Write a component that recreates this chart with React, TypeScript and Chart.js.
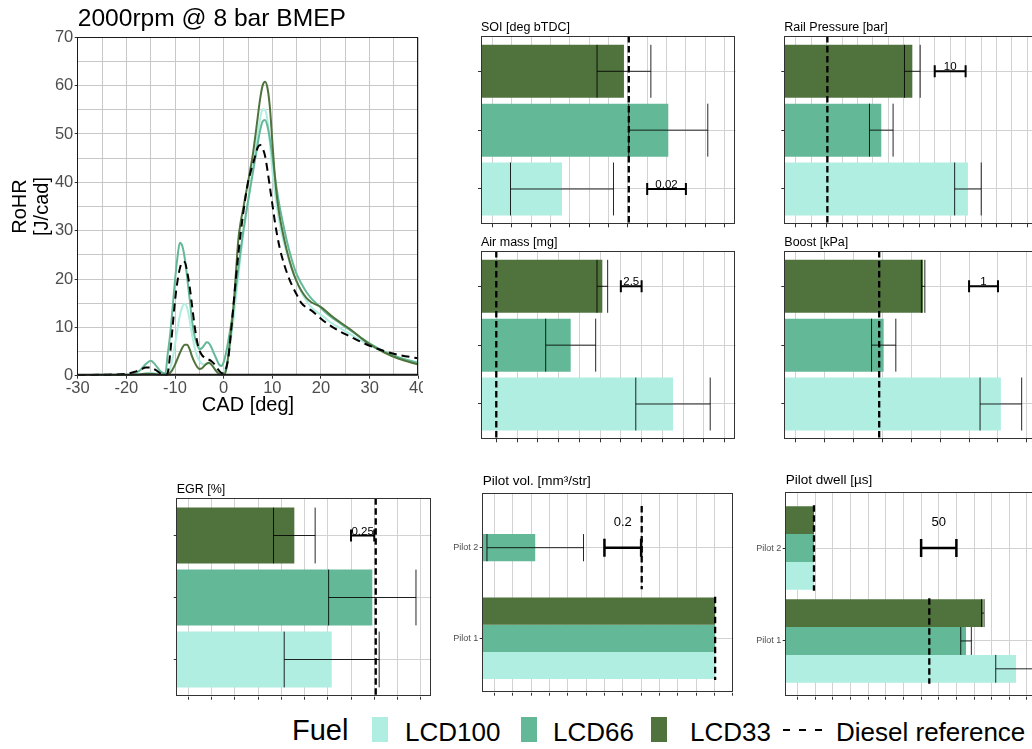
import React, { useEffect, useRef } from 'react';
import { Chart, registerables } from 'chart.js';

Chart.register(...registerables);

const FONT = "'Liberation Sans', Arial, Helvetica, sans-serif";
Chart.defaults.font.family = FONT;

const FUELS = ['LCD100', 'LCD66', 'LCD33'];
const FUEL_COLORS = ['#afeee1', '#63b997', '#50733d'];
const DIESEL_NAME = 'Diesel reference';

// ---------- Rate of heat release, 2000 rpm / 8 bar BMEP ----------
const cad = [
  -30, -25, -20, -18, -17, -16, -15, -14, -13, -12,
  -11.5, -11, -10.5, -10, -9.5, -9, -8.5, -8, -7.5, -7,
  -6.5, -6, -5.5, -5, -4.5, -4, -3.5, -3, -2.5, -2,
  -1.5, -1, -0.5, 0, 0.5, 1, 1.5, 2, 2.5, 3,
  3.5, 4, 4.5, 5, 5.5, 6, 6.5, 7, 7.5, 8,
  8.5, 9, 9.5, 10, 10.5, 11, 11.5, 12, 13, 14,
  15, 16, 17, 18, 19, 20, 21, 22, 24, 26,
  28, 30, 33, 36, 40,
];
const rohrLCD100 = [
  0.0, 0.05, 0.1, 0.2, 0.3, 0.5, 0.6, 0.5, 0.3, 0.2,
  0.5, 1.5, 3.5, 6.5, 9.5, 12.5, 14.3, 14.9, 14.0, 11.5,
  8.5, 6.0, 4.2, 3.1, 2.5, 2.3, 2.4, 2.5, 2.2, 1.6,
  1.0, 0.6, 0.5, 0.8, 2.0, 4.0, 7.5, 11.5, 16.0, 20.5,
  25.0, 29.0, 32.5, 36.0, 39.5, 43.0, 46.5, 50.0, 53.3, 55.1,
  55.0, 52.8, 48.0, 42.5, 38.0, 34.5, 31.5, 29.0, 25.3, 22.2,
  19.3, 17.2, 15.5, 14.2, 13.3, 12.6, 11.8, 11.0, 9.8, 8.6,
  7.4, 6.3, 4.9, 3.8, 2.7,
];
const rohrLCD66 = [
  0.1, 0.2, 0.2, 0.6, 1.3, 2.4, 3.1, 2.2, 0.9, 0.4,
  4.5, 8.5, 14.0, 19.8, 24.5, 27.5, 26.8, 24.3, 20.3, 16.0,
  11.4, 8.3, 6.5, 5.5, 5.7, 6.3, 6.9, 6.7, 5.8, 4.6,
  3.5, 2.4, 2.0, 2.8, 4.8, 7.5, 10.5, 14.0, 18.0, 22.0,
  26.0, 29.7, 33.0, 36.0, 39.0, 42.0, 45.0, 48.0, 50.8, 52.6,
  52.9, 51.6, 49.0, 45.5, 41.5, 38.0, 35.0, 32.5, 27.8, 24.0,
  21.0, 19.0, 17.3, 16.0, 15.0, 14.0, 13.0, 12.2, 10.8, 9.4,
  8.0, 6.7, 5.0, 3.8, 2.6,
];
const rohrLCD33 = [
  0.0, 0.05, 0.1, 0.2, 0.3, 0.4, 0.4, 0.3, 0.2, 0.1,
  0.2, 0.6, 1.3, 2.3, 3.5, 4.7, 5.8, 6.4, 6.4, 5.5,
  4.0, 2.8, 1.9, 1.4, 1.5, 2.0, 2.5, 2.7, 2.3, 1.6,
  0.9, 0.4, 0.2, 0.2, 1.2, 4.5, 9.0, 14.0, 21.0, 28.0,
  31.8, 34.5, 37.3, 40.0, 42.8, 45.8, 49.5, 53.5, 57.3, 60.0,
  60.8, 59.5, 55.5, 48.5, 41.5, 36.5, 33.0, 30.3, 25.8, 22.2,
  19.5, 17.5, 16.1, 15.2, 14.7, 14.2, 13.4, 12.5, 11.0, 9.6,
  8.0, 6.5, 4.8, 3.5, 2.3,
];
const rohrDiesel = [
  0.1, 0.2, 0.4, 0.9, 1.3, 1.7, 1.7, 1.2, 0.5, 0.1,
  0.6, 4.5, 10.0, 15.5, 19.5, 22.2, 23.5, 23.5, 21.5, 18.5,
  14.5, 10.5, 7.3, 5.3, 4.3, 3.8, 3.5, 3.3, 3.0, 2.5,
  1.8, 1.1, 0.6, 0.5, 1.5, 4.0, 9.0, 14.5, 20.0, 25.0,
  29.5, 33.5, 37.0, 40.0, 42.0, 43.8, 45.5, 47.2, 47.7, 47.0,
  45.5, 42.5, 39.0, 35.5, 32.0, 29.0, 26.5, 24.5, 21.3, 18.8,
  16.8, 15.0, 14.1, 13.5, 12.7, 11.8, 11.0, 10.3, 9.1, 8.1,
  7.1, 6.2, 5.1, 4.3, 3.6,
];

// ---------- Injection / air-path quantities (LCD100, LCD66, LCD33), mean and sd ----------
// Values are read against each panel's grid; the grid origin is the first vertical line.
const soiMean = [0.036, 0.0909, 0.068];
const soiSd = [0.0266, 0.0204, 0.0139];
const soiDiesel = 0.0705;

const railMean = [55.75, 27.7, 37.75];
const railSd = [4.3, 3.82, 2.54];
const railDiesel = 10.25;

const airMean = [21.28, 8.96, 12.77];
const airSd = [4.48, 3.01, 0.64];
const airDiesel = 0.0;

const boostMean = [7.1, 3.045, 4.41];
const boostSd = [0.72, 0.42, 0.06];
const boostDiesel = 2.89;

const egrMean = [1.542, 1.979, 1.14];
const egrSd = [0.511, 0.47, 0.224];
const egrDiesel = 2.016;

// Pilot injections, [Pilot 1, Pilot 2]; null where a fuel has no second pilot
const pilotCategories = ['Pilot 1', 'Pilot 2'];
const pilotVolMean = [
  [1.203, null],
  [1.203, 0.223],
  [1.203, null],
];
const pilotVolSd = [
  [0, 0],
  [0, 0.263],
  [0, 0],
];
const pilotVolDiesel = [1.203, 0.803];

const pilotDwellMean = [
  [309.6, 23.1],
  [238.7, 23.1],
  [262.5, 23.1],
];
const pilotDwellSd = [
  [28.8, 0],
  [7.5, 0],
  [1.7, 0],
];
const pilotDwellDiesel = [186.6, 23.1];

// Scale-bar lengths shown in each panel
const soiScaleBar = 0.02;
const railScaleBar = 10;
const airScaleBar = 2.5;
const boostScaleBar = 1;
const egrScaleBar = 0.25;
const pilotVolScaleBar = 0.2;
const pilotDwellScaleBar = 50;

// ---------- styling ----------
const GRID_COLOR = '#d2d2d2';
const FRAME_COLOR = '#333333';
const TICK_TEXT = '#4d4d4d';

const framePlugin = {
  id: 'panelFrame',
  afterDraw(chart: any, _args: any, opts: any) {
    const { ctx, chartArea: a } = chart;
    const l = Math.floor(a.left) + 0.5;
    const t = Math.floor(a.top) + 0.5;
    const r = Math.floor(a.right) - 0.5;
    const b = Math.floor(a.bottom) - 0.5;
    ctx.save();
    ctx.strokeStyle = opts.color || FRAME_COLOR;
    ctx.lineWidth = 1;
    ctx.strokeRect(l, t, r - l, b - t);
    if (opts.bottomWidth) {
      ctx.lineWidth = opts.bottomWidth;
      ctx.beginPath();
      ctx.moveTo(a.left, a.bottom - opts.bottomWidth / 2);
      ctx.lineTo(a.right, a.bottom - opts.bottomWidth / 2);
      ctx.stroke();
    }
    ctx.restore();
  },
};

function titlePadding(areaTop: number, size: number, lift: number) {
  const middle = areaTop - lift - 0.3465 * size;
  const top = middle - 0.6 * size;
  return { top, bottom: areaTop - top - 1.2 * size };
}

// ---------- RoHR line chart ----------
const LINE_BOX = { width: 423, height: 420, left: 77.7, top: 37.3, right: 418.3, bottom: 375.7 };

function buildLineChart(canvas: HTMLCanvasElement) {
  const series = [
    { label: 'LCD100', values: rohrLCD100, color: FUEL_COLORS[0], dash: [] as number[], order: 3 },
    { label: 'LCD66', values: rohrLCD66, color: FUEL_COLORS[1], dash: [] as number[], order: 2 },
    { label: 'LCD33', values: rohrLCD33, color: FUEL_COLORS[2], dash: [] as number[], order: 1 },
    { label: DIESEL_NAME, values: rohrDiesel, color: '#000000', dash: [8, 5], order: 0 },
  ];
  const tp = titlePadding(LINE_BOX.top, 24.6, 9.3);
  return new Chart(canvas, {
    type: 'line',
    data: {
      datasets: series.map((s) => ({
        label: s.label,
        data: cad.map((x, i) => ({ x, y: s.values[i] })),
        borderColor: s.color,
        borderWidth: 2,
        borderDash: s.dash,
        pointRadius: 0,
        fill: false,
        cubicInterpolationMode: 'monotone',
        order: s.order,
      })),
    },
    options: {
      animation: false,
      responsive: false,
      devicePixelRatio: 1,
      layout: { padding: { left: 0, top: 0, right: LINE_BOX.width - LINE_BOX.right, bottom: 0 } },
      plugins: {
        legend: { display: false },
        tooltip: { enabled: false },
        title: {
          display: true,
          text: '2000rpm @ 8 bar BMEP',
          align: 'start',
          fullSize: false,
          color: '#000000',
          font: { size: 24.6, weight: 'normal', lineHeight: 1.2 },
          padding: tp,
        },
        panelFrame: { color: '#1a1a1a', bottomWidth: 2 },
      },
      scales: {
        x: {
          type: 'linear',
          min: -30,
          max: 40,
          ticks: {
            stepSize: 5,
            autoSkip: false,
            maxRotation: 0,
            padding: 0,
            color: TICK_TEXT,
            font: { size: 16.5 },
            callback: (v: any) => (Number(v) % 10 === 0 ? String(v) : ''),
          },
          grid: {
            color: '#c8c8c8',
            tickLength: 3,
            tickColor: (ctx: any) => (ctx.tick && ctx.tick.value % 10 === 0 ? '#333333' : 'rgba(0,0,0,0)'),
          },
          border: { display: false },
          title: {
            display: true,
            text: 'CAD [deg]',
            color: '#000000',
            font: { size: 20, lineHeight: 1.2 },
            padding: { top: 0, bottom: 2.7 },
          },
          afterFit: (s: any) => {
            s.height = LINE_BOX.height - LINE_BOX.bottom;
            s.paddingLeft = 0;
            s.paddingRight = 0;
          },
        },
        y: {
          type: 'linear',
          min: 0,
          max: 70,
          ticks: {
            stepSize: 5,
            autoSkip: false,
            padding: 1.4,
            color: TICK_TEXT,
            font: { size: 16.5 },
            callback: (v: any) => (Number(v) % 10 === 0 ? String(v) : ''),
          },
          grid: {
            color: '#c8c8c8',
            tickLength: 3,
            tickColor: (ctx: any) => (ctx.tick && ctx.tick.value % 10 === 0 ? '#333333' : 'rgba(0,0,0,0)'),
          },
          border: { display: false },
          title: {
            display: true,
            text: ['RoHR', '[J/cad]'],
            color: '#000000',
            font: { size: 20, lineHeight: 1.1 },
            padding: { top: 9.9, bottom: 0 },
          },
          afterFit: (s: any) => {
            s.width = LINE_BOX.left;
            s.paddingTop = 0;
            s.paddingBottom = 0;
          },
        },
      },
    },
    plugins: [framePlugin],
  } as any);
}

// ---------- bar panels ----------
type ScaleStyle = { font: number; lift: number; cap: number; width: number };
const SMALL_SCALE: ScaleStyle = { font: 11.5, lift: 1, cap: 6, width: 2 };
const PILOT_SCALE: ScaleStyle = { font: 13, lift: 22, cap: 9, width: 2.5 };

type Panel = {
  id: string;
  title: string;
  titleSize: number;
  titleLift: number;
  box: [number, number, number, number];
  xMin: number;
  xMax: number;
  step: number;
  gridCount: number;
  categories: string[] | null;
  mean: (number | null)[][];
  sd: number[][];
  diesel: number[];
  scaleFrom: number;
  scaleSize: number;
  scaleRow: number;
  scaleStyle: ScaleStyle;
};

const perFuel = (arr: number[]) => arr.map((v) => [v]);

const panels: Panel[] = [
  {
    id: 'soi', title: 'SOI [deg bTDC]', titleSize: 12.5, titleLift: 4.3,
    box: [481, 36, 735.7, 224.3], xMin: -0.00584, xMax: 0.12572, step: 0.01, gridCount: 13,
    categories: null, mean: perFuel(soiMean), sd: perFuel(soiSd), diesel: [soiDiesel],
    scaleFrom: 0.08, scaleSize: soiScaleBar, scaleRow: 1, scaleStyle: SMALL_SCALE,
  },
  {
    id: 'rail', title: 'Rail Pressure [bar]', titleSize: 12.5, titleLift: 4.3,
    box: [784.3, 36, 1039, 224.3], xMin: -3.69, xMax: 78.75, step: 5, gridCount: 16,
    categories: null, mean: perFuel(railMean), sd: perFuel(railSd), diesel: [railDiesel],
    scaleFrom: 45, scaleSize: railScaleBar, scaleRow: 3, scaleStyle: SMALL_SCALE,
  },
  {
    id: 'air', title: 'Air mass [mg]', titleSize: 12.5, titleLift: 4.3,
    box: [481, 251, 735.7, 439.3], xMin: -1.84, xMax: 28.83, step: 2.5, gridCount: 12,
    categories: null, mean: perFuel(airMean), sd: perFuel(airSd), diesel: [airDiesel],
    scaleFrom: 15, scaleSize: airScaleBar, scaleRow: 3, scaleStyle: SMALL_SCALE,
  },
  {
    id: 'boost', title: 'Boost [kPa]', titleSize: 12.5, titleLift: 4.3,
    box: [784.3, 251, 1039, 439.3], xMin: -0.394, xMax: 8.42, step: 1, gridCount: 9,
    categories: null, mean: perFuel(boostMean), sd: perFuel(boostSd), diesel: [boostDiesel],
    scaleFrom: 6, scaleSize: boostScaleBar, scaleRow: 3, scaleStyle: SMALL_SCALE,
  },
  {
    id: 'egr', title: 'EGR [%]', titleSize: 12.5, titleLift: 4.3,
    box: [176.7, 498.3, 431.4, 696.7], xMin: -0.126, xMax: 2.615, step: 0.25, gridCount: 11,
    categories: null, mean: perFuel(egrMean), sd: perFuel(egrSd), diesel: [egrDiesel],
    scaleFrom: 1.75, scaleSize: egrScaleBar, scaleRow: 3, scaleStyle: SMALL_SCALE,
  },
  {
    id: 'pvol', title: 'Pilot vol. [mm\u00b3/str]', titleSize: 13.5, titleLift: 7.6,
    box: [482.7, 493.3, 733.3, 692.7], xMin: -0.0632, xMax: 1.302, step: 0.1, gridCount: 14,
    categories: pilotCategories, mean: pilotVolMean, sd: pilotVolSd, diesel: pilotVolDiesel,
    scaleFrom: 0.6, scaleSize: pilotVolScaleBar, scaleRow: 2, scaleStyle: PILOT_SCALE,
  },
  {
    id: 'pdwell', title: 'Pilot dwell [\u00b5s]', titleSize: 13.5, titleLift: 7.3,
    box: [785.7, 492.3, 1036.3, 696.7], xMin: -17, xMax: 338.3, step: 25, gridCount: 14,
    categories: pilotCategories, mean: pilotDwellMean, sd: pilotDwellSd, diesel: pilotDwellDiesel,
    scaleFrom: 175, scaleSize: pilotDwellScaleBar, scaleRow: 2, scaleStyle: PILOT_SCALE,
  },
];

function panelGeometry(box: [number, number, number, number]) {
  const [L, T, R, B] = box;
  const left = Math.floor(L) - 46;
  const top = Math.floor(T) - 26;
  const width = Math.ceil(R) + 4 - left;
  const height = Math.ceil(B) + 8 - top;
  return {
    left, top, width, height,
    areaLeft: L - left,
    areaTop: T - top,
    padRight: left + width - R,
    axisBottom: top + height - B,
  };
}

function buildBarPanel(canvas: HTMLCanvasElement, p: Panel) {
  const g = panelGeometry(p.box);
  const single = !p.categories;
  const rows = single ? [1, 2, 3] : p.categories!.map((_, i) => i + 1);
  // top-to-bottom: LCD33, LCD66, LCD100
  const order = single ? [0, 1, 2] : [2, 1, 0];
  const rowOf = (fi: number, ci: number) => (single ? fi + 1 : ci + 1);

  const datasets = order.map((fi) => ({
    label: FUELS[fi],
    data: p.mean[fi].map((v, ci) => ({ x: v, y: rowOf(fi, ci) })),
    backgroundColor: FUEL_COLORS[fi],
    borderWidth: 0,
    base: p.xMin,
    grouped: !single,
    barPercentage: single ? 0.9 : 1,
    categoryPercentage: single ? 1 : 0.9,
  }));

  const overlay = {
    id: 'panelOverlay',
    afterDatasetsDraw(chart: any) {
      const { ctx, chartArea: a } = chart;
      const xs = chart.scales.x;
      const ys = chart.scales.y;
      ctx.save();
      ctx.beginPath();
      ctx.rect(a.left, a.top, a.right - a.left, a.bottom - a.top);
      ctx.clip();

      // error bars, mean +/- sd
      ctx.strokeStyle = 'rgba(0,0,0,0.85)';
      ctx.lineWidth = 1;
      order.forEach((fi, di) => {
        const meta = chart.getDatasetMeta(di);
        p.mean[fi].forEach((m, ci) => {
          const s = p.sd[fi][ci];
          if (m == null || !s) return;
          const el = meta.data[ci];
          const half = el.height / 2;
          const x1 = xs.getPixelForValue(m - s);
          const x2 = xs.getPixelForValue(m + s);
          ctx.beginPath();
          ctx.moveTo(x1, el.y);
          ctx.lineTo(x2, el.y);
          ctx.moveTo(x1, el.y - half);
          ctx.lineTo(x1, el.y + half);
          ctx.moveTo(x2, el.y - half);
          ctx.lineTo(x2, el.y + half);
          ctx.stroke();
        });
      });

      // diesel reference
      ctx.strokeStyle = '#000000';
      ctx.lineWidth = 2.3;
      ctx.setLineDash([6.5, 3.5]);
      p.diesel.forEach((d, ci) => {
        const x = xs.getPixelForValue(d);
        const y1 = single ? a.top : ys.getPixelForValue(ci + 1 + 0.46);
        const y2 = single ? a.bottom : ys.getPixelForValue(ci + 1 - 0.46);
        ctx.beginPath();
        ctx.moveTo(x, y1);
        ctx.lineTo(x, y2);
        ctx.stroke();
      });
      ctx.setLineDash([]);
      ctx.restore();

      // scale bar
      const st = p.scaleStyle;
      const sx1 = xs.getPixelForValue(p.scaleFrom);
      const sx2 = xs.getPixelForValue(p.scaleFrom + p.scaleSize);
      const sy = ys.getPixelForValue(p.scaleRow);
      ctx.save();
      ctx.strokeStyle = '#000000';
      ctx.lineWidth = st.width;
      ctx.beginPath();
      ctx.moveTo(sx1, sy);
      ctx.lineTo(sx2, sy);
      ctx.moveTo(sx1, sy - st.cap);
      ctx.lineTo(sx1, sy + st.cap);
      ctx.moveTo(sx2, sy - st.cap);
      ctx.lineTo(sx2, sy + st.cap);
      ctx.stroke();
      ctx.fillStyle = '#000000';
      ctx.font = `${st.font}px ${FONT}`;
      ctx.textAlign = 'center';
      ctx.textBaseline = 'alphabetic';
      ctx.fillText(String(p.scaleSize), (sx1 + sx2) / 2, sy - st.lift);
      ctx.restore();
    },
  };

  const tp = titlePadding(g.areaTop, p.titleSize, p.titleLift);

  return new Chart(canvas, {
    type: 'bar',
    data: { datasets },
    options: {
      animation: false,
      responsive: false,
      devicePixelRatio: 1,
      indexAxis: 'y',
      layout: { padding: { left: 0, top: 0, right: g.padRight, bottom: 0 } },
      plugins: {
        legend: { display: false },
        tooltip: { enabled: false },
        title: {
          display: true,
          text: p.title,
          align: 'start',
          fullSize: false,
          color: '#000000',
          font: { size: p.titleSize, weight: 'normal', lineHeight: 1.2 },
          padding: tp,
        },
        panelFrame: { color: FRAME_COLOR },
      },
      scales: {
        x: {
          type: 'linear',
          min: p.xMin,
          max: p.xMax,
          offset: false,
          afterBuildTicks: (s: any) => {
            s.ticks = Array.from({ length: p.gridCount }, (_, k) => ({ value: k * p.step }));
          },
          ticks: { callback: () => '', autoSkip: false, maxRotation: 0 },
          grid: { color: GRID_COLOR, lineWidth: 1, tickLength: 3, tickColor: FRAME_COLOR, offset: false },
          border: { display: false },
          afterFit: (s: any) => {
            s.height = g.axisBottom;
            s.paddingLeft = 0;
            s.paddingRight = 0;
          },
        },
        y: {
          type: 'linear',
          min: 0.4,
          max: rows.length + 0.6,
          offset: false,
          afterBuildTicks: (s: any) => {
            s.ticks = rows.map((v) => ({ value: v }));
          },
          ticks: {
            autoSkip: false,
            padding: 1.5,
            color: TICK_TEXT,
            font: { size: 9 },
            callback: (v: any) => (single ? '' : p.categories![Number(v) - 1] || ''),
          },
          grid: { color: GRID_COLOR, lineWidth: 1, tickLength: 3, tickColor: FRAME_COLOR, offset: false },
          border: { display: false },
          afterFit: (s: any) => {
            s.width = g.areaLeft;
            s.paddingTop = 0;
            s.paddingBottom = 0;
          },
        },
      },
    },
    plugins: [overlay, framePlugin],
  } as any);
}

function ChartCanvas(props: {
  left: number;
  top: number;
  width: number;
  height: number;
  build: (c: HTMLCanvasElement) => Chart;
}) {
  const ref = useRef<HTMLCanvasElement>(null);
  const { left, top, width, height, build } = props;
  useEffect(() => {
    const chart = build(ref.current!);
    return () => chart.destroy();
  }, []);
  return (
    <canvas
      ref={ref}
      width={width}
      height={height}
      style={{ position: 'absolute', left, top, width, height }}
    />
  );
}

// ---------- legend ----------
const LEGEND_BASELINE = 741;
const legendText = (size: number) => ({
  position: 'absolute' as const,
  top: LEGEND_BASELINE - 0.8465 * size,
  fontSize: size,
  lineHeight: `${size}px`,
  fontFamily: FONT,
  color: '#000000',
  whiteSpace: 'nowrap' as const,
});
const legendSwatchX = [372, 521, 651];
const legendLabelX = [405, 553, 690];

function Legend() {
  return (
    <>
      <div style={{ ...legendText(29), left: 292 }}>Fuel</div>
      {FUELS.map((f, i) => (
        <React.Fragment key={f}>
          <div
            style={{
              position: 'absolute',
              left: legendSwatchX[i],
              top: 717,
              width: 16,
              height: 25,
              background: FUEL_COLORS[i],
            }}
          />
          <div style={{ ...legendText(26), left: legendLabelX[i] }}>{f}</div>
        </React.Fragment>
      ))}
      {[0, 1, 2].map((k) => (
        <div
          key={k}
          style={{
            position: 'absolute',
            left: 783 + k * 16,
            top: 728.5,
            width: 7,
            height: 2.5,
            background: '#000000',
          }}
        />
      ))}
      <div style={{ ...legendText(26), left: 836 }}>{DIESEL_NAME}</div>
    </>
  );
}

export default function App() {
  return (
    <div
      style={{
        position: 'absolute',
        left: 0,
        top: 0,
        width: 1032,
        height: 749,
        overflow: 'hidden',
        background: '#ffffff',
      }}
    >
      <ChartCanvas left={0} top={0} width={LINE_BOX.width} height={LINE_BOX.height} build={buildLineChart} />
      {panels.map((p) => {
        const g = panelGeometry(p.box);
        return (
          <ChartCanvas
            key={p.id}
            left={g.left}
            top={g.top}
            width={g.width}
            height={g.height}
            build={(c) => buildBarPanel(c, p)}
          />
        );
      })}
      <Legend />
    </div>
  );
}
